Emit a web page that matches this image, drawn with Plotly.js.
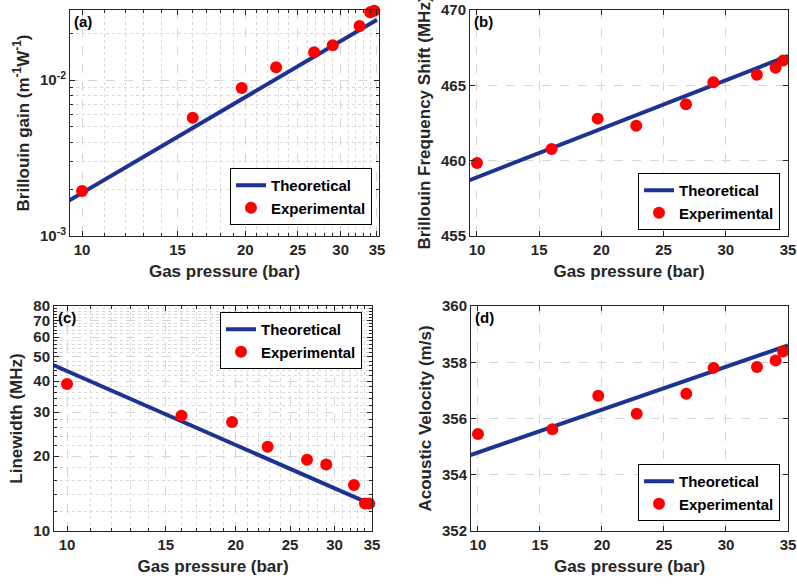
<!DOCTYPE html>
<html>
<head>
<meta charset="utf-8">
<script src="https://cdn.plot.ly/plotly-3.0.1.min.js"></script>
<style>html,body{margin:0;padding:0;background:#fff;}#chart{width:797px;height:584px;}</style>
</head>
<body>
<div id="chart"></div>
<script>
// ---- data ----
const pressureExp = [10, 16, 19.7, 22.8, 26.8, 29, 32.5, 34, 34.6];
const pressureTheory = [9.4, 35];

const gainExp = [1.94e-3, 5.73e-3, 8.9e-3, 1.205e-2, 1.507e-2, 1.668e-2, 2.22e-2, 2.72e-2, 2.78e-2];
const gainTheory = [1.665e-3, 2.43e-2];

const shiftExp = [459.85, 460.77, 462.79, 462.32, 463.74, 465.2, 465.71, 466.17, 466.64];
const shiftTheory = [458.70, 466.95];

const widthExp = [38.9, 29.0, 27.4, 21.8, 19.3, 18.5, 15.3, 12.9, 12.9];
const widthTheory = [46.6, 12.76];

const velExp = [355.45, 355.62, 356.81, 356.17, 356.88, 357.80, 357.83, 358.06, 358.38];
const velTheory = [354.70, 358.60];

const xTicks = [10, 15, 20, 25, 30, 35];
const xMinorLog = [11,12,13,14,16,17,18,19,21,22,23,24,26,27,28,29,31,32,33,34];
const gainTicks = [1e-3, 1e-2];
const gainTickText = ['10<sup>-3</sup>', '10<sup>-2</sup>'];
const gainMinor = [2e-3,3e-3,4e-3,5e-3,6e-3,7e-3,8e-3,9e-3,2e-2];
const shiftTicks = [455, 460, 465, 470];
const widthTicks = [10, 20, 30, 40, 50, 60, 70, 80];
const widthMinor = [12,14,16,18,22,24,26,28,32,34,36,38,42,44,46,48,52,54,56,58,62,64,66,68,72,74,76,78];
const velTicks = [352, 354, 356, 358, 360];

const legendNames = ['Theoretical', 'Experimental'];
const panelLabels = ['(a)', '(b)', '(c)', '(d)'];
const yTitles = ['Brillouin gain (m<sup>-1</sup>W<sup>-1</sup>)', 'Brillouin Frequency Shift (MHz)', 'Linewidth (MHz)', 'Acoustic Velocity (m/s)'];
const xTitle = 'Gas pressure (bar)';

// ---- styling ----
const FONT = 'Liberation Sans, Arial, sans-serif';
const AX = '#262626';
const BLUE = '#1c3394';
const RED = '#ff0000';
const W = 797, H = 584;

function dom(a, b, total) { return [a / total, b / total]; }
function ydom(top, bottom) { return [1 - bottom / H, 1 - top / H]; }

function baseAxis(extra) {
  return Object.assign({
    showline: true, linecolor: AX, linewidth: 1, mirror: 'ticks',
    ticks: 'inside', ticklen: 5, tickcolor: AX, tickwidth: 1,
    showgrid: true, gridcolor: '#d6d6d6', griddash: 'dash', gridwidth: 1,
    zeroline: false,
    tickfont: {family: FONT, size: 15, color: AX, weight: 'bold'},
    title: {font: {family: FONT, size: 17, color: AX, weight: 'bold'}},
  }, extra);
}

const panels = [
  {xr: [Math.log10(9.5), Math.log10(35.3)], xlog: true, yr: [-3, Math.log10(0.0281)], ylog: true,
   yt: gainTicks, ytt: gainTickText, ym: gainMinor, ye: gainExp, yth: gainTheory,
   xd: dom(70, 379, W), yd: ydom(10, 236), leg: {x: 372/W, y: 1-225/H, xanchor: 'right', yanchor: 'bottom'}},
  {xr: [9.44, 35], xlog: false, yr: [455, 470], ylog: false,
   yt: shiftTicks, ytt: null, ym: null, ye: shiftExp, yth: shiftTheory,
   xd: dom(470, 788, W), yd: ydom(10, 236), leg: {x: 780/W, y: 1-230/H, xanchor: 'right', yanchor: 'bottom'}},
  {xr: [Math.log10(9.48), Math.log10(35)], xlog: true, yr: [1, Math.log10(80)], ylog: true,
   yt: widthTicks, ytt: null, ym: widthMinor, ye: widthExp, yth: widthTheory,
   xd: dom(54, 372, W), yd: ydom(306, 531), leg: {x: 362/W, y: 1-312/H, xanchor: 'right', yanchor: 'top'}},
  {xr: [9.44, 35], xlog: false, yr: [352, 360], ylog: false,
   yt: velTicks, ytt: null, ym: null, ye: velExp, yth: velTheory,
   xd: dom(471, 788, W), yd: ydom(306, 531), leg: {x: 780/W, y: 1-521/H, xanchor: 'right', yanchor: 'bottom'}},
];

const traces = [];
const layout = {
  width: W, height: H, margin: {l: 0, r: 0, t: 0, b: 0},
  paper_bgcolor: '#fff', plot_bgcolor: '#fff', showlegend: true,
  font: {family: FONT, color: AX},
  annotations: [],
};

panels.forEach((p, i) => {
  const n = i === 0 ? '' : String(i + 1);
  const xa = 'x' + n, ya = 'y' + n;
  const legName = i === 0 ? 'legend' : 'legend' + (i + 1);
  traces.push({
    x: pressureTheory, y: p.yth, xaxis: xa, yaxis: ya, type: 'scatter', mode: 'lines',
    name: legendNames[0], line: {color: BLUE, width: 4}, legend: legName, cliponaxis: true,
  });
  traces.push({
    x: pressureExp, y: p.ye, xaxis: xa, yaxis: ya, type: 'scatter', mode: 'markers',
    name: legendNames[1], marker: {color: RED, size: 12}, legend: legName, cliponaxis: false,
  });

  const xax = baseAxis({
    domain: p.xd, anchor: ya, type: p.xlog ? 'log' : 'linear', range: p.xr,
    tickmode: 'array', tickvals: xTicks, ticktext: xTicks.map(String),
  });
  xax.title = {text: xTitle, standoff: 8, font: {family: FONT, size: 17, color: AX, weight: 'bold'}};
  if (p.xlog) {
    xax.minor = {tickmode: 'array', tickvals: xMinorLog, ticks: 'inside', ticklen: 3, tickcolor: AX,
                 showgrid: true, gridcolor: '#d9d9d9', griddash: 'dot', gridwidth: 1};
  }
  const yax = baseAxis({
    domain: p.yd, anchor: xa, type: p.ylog ? 'log' : 'linear', range: p.yr,
    tickmode: 'array', tickvals: p.yt, ticktext: p.ytt ? p.ytt : p.yt.map(String),
  });
  yax.title = {text: yTitles[i], standoff: 6, font: {family: FONT, size: 17, color: AX, weight: 'bold'}};
  if (p.ym) {
    yax.minor = {tickmode: 'array', tickvals: p.ym, ticks: 'inside', ticklen: 3, tickcolor: AX,
                 showgrid: true, gridcolor: '#d9d9d9', griddash: 'dot', gridwidth: 1};
  }
  layout['xaxis' + n] = xax;
  layout['yaxis' + n] = yax;

  layout[legName] = Object.assign({
    xref: 'paper', yref: 'paper', bgcolor: '#fff', bordercolor: '#000', borderwidth: 1,
    font: {family: FONT, size: 15, color: '#000', weight: 'bold'},
    tracegroupgap: 0, itemwidth: 30,
  }, p.leg);

  layout.annotations.push({
    text: panelLabels[i], xref: xa + ' domain', yref: ya + ' domain', x: 0.005, y: 0.995,
    xanchor: 'left', yanchor: 'top', showarrow: false,
    font: {family: FONT, size: 15, color: '#000', weight: 'bold'},
  });
});

Plotly.newPlot('chart', traces, layout, {staticPlot: true, displayModeBar: false});
</script>
</body>
</html>
